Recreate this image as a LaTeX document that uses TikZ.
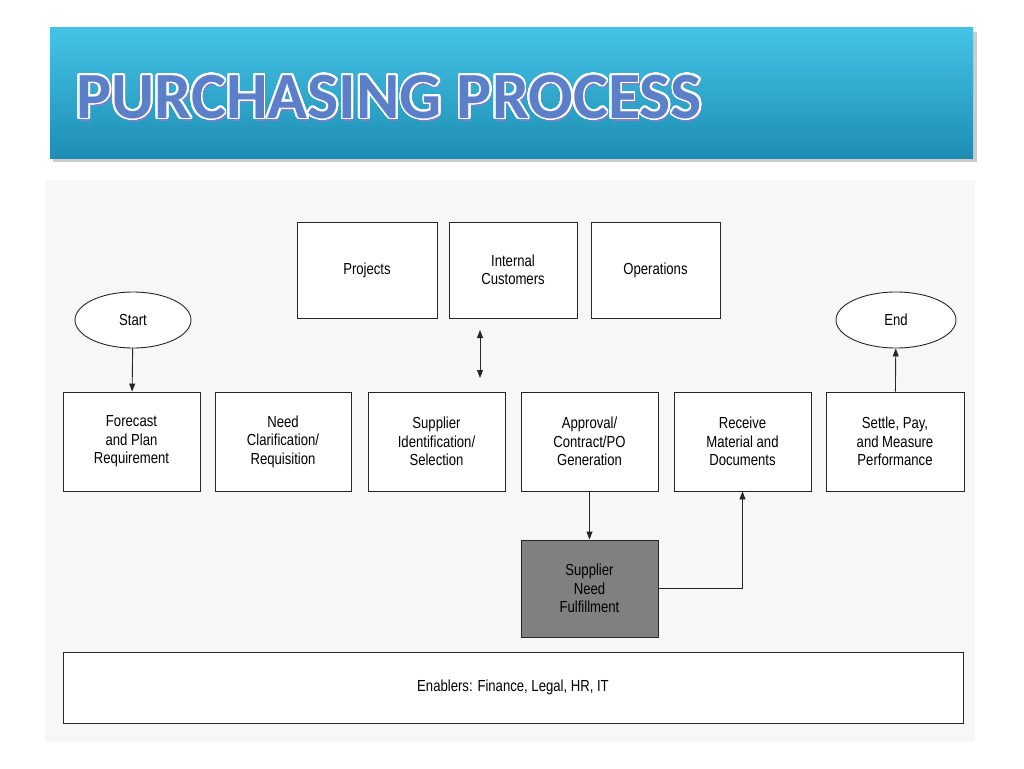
\documentclass[tikz,border=0pt]{standalone}
\usepackage{fontspec}
\setmainfont{Liberation Sans}[FakeStretch=0.82]
\newfontfamily\titlefont{Carlito}
\usepackage[copies]{contour}
\usetikzlibrary{shapes.geometric,arrows.meta}
\definecolor{bantop}{HTML}{45C3E6}
\definecolor{banbot}{HTML}{1E8DB4}
\definecolor{titlefill}{HTML}{5B7FC8}
\begin{document}
\begin{tikzpicture}[x=1pt,y=-1pt,
  bx/.style={draw=black!85,line width=0.9pt,fill=white,align=center,font=\fontsize{16}{18.5}\selectfont,inner sep=0pt},
  ar/.style={draw=black!85,line width=0.9pt,-{Triangle[length=8pt,width=6pt]}}]
\useasboundingbox (0,0) rectangle (1024,768);
\fill[white] (0,0) rectangle (1024,768);
\fill[black!3] (45,180) rectangle (975,742);
% title banner
\fill[black!20] (53,32) rectangle (977,162);
\shade[top color=bantop, bottom color=banbot] (50,28) rectangle (973,158);
\contournumber{32}
\contourlength{1.8pt}
\node[anchor=base west,inner sep=0pt,font=\titlefont\bfseries\fontsize{66}{66}\selectfont,text=black!40!blue!50] at (78,121) {PURCHASING PROCESS};
\node[anchor=base west,inner sep=0pt,font=\titlefont\bfseries\fontsize{66}{66}\selectfont,text=titlefill] at (76,118) {\contour{white}{PURCHASING PROCESS}};
% top boxes
\node[bx,minimum width=140,minimum height=96] (proj) at (367,270) {Projects};
\node[bx,minimum width=128,minimum height=96] (ic) at (513,270) {Internal\\Customers};
\node[bx,minimum width=129,minimum height=96] (ops) at (655.5,270) {Operations};
\node[bx,ellipse,minimum width=116,minimum height=56] (start) at (133,320) {Start};
\node[bx,ellipse,minimum width=120,minimum height=56] (end) at (896,320) {End};
% row
\node[bx,minimum width=137,minimum height=99] (fc) at (131.5,441.5) {Forecast\\and Plan\\Requirement};
\node[bx,minimum width=136,minimum height=99] (nc) at (283,441.5) {Need\\Clarification/\\Requisition};
\node[bx,minimum width=137,minimum height=99] (si) at (436.5,441.5) {Supplier\\Identification/\\Selection};
\node[bx,minimum width=137,minimum height=99] (ap) at (589.5,441.5) {Approval/\\Contract/PO\\Generation};
\node[bx,minimum width=137,minimum height=99] (rm) at (742.5,441.5) {Receive\\Material and\\Documents};
\node[bx,minimum width=138,minimum height=99] (sp) at (895,441.5) {Settle, Pay,\\and Measure\\Performance};
\node[bx,fill=black!50,minimum width=137,minimum height=97] (sn) at (589.5,588.5) {Supplier\\Need\\Fulfillment};
\node[bx,minimum width=900,minimum height=71] (en) at (513,687.5) {Enablers: Finance, Legal, HR, IT};
% connectors
\coordinate (da) at (480,330);
\coordinate (db) at (480,378);
\draw[ar,{Triangle[length=8pt,width=6pt]}-{Triangle[length=8pt,width=6pt]}] (da) -- (db);
\draw[ar] (start) -- (fc);
\draw[ar] (sp) -- (end);
\draw[ar] (ap) -- (sn);
\draw[ar] (sn.east) -| (rm.south);
\end{tikzpicture}
\end{document}
